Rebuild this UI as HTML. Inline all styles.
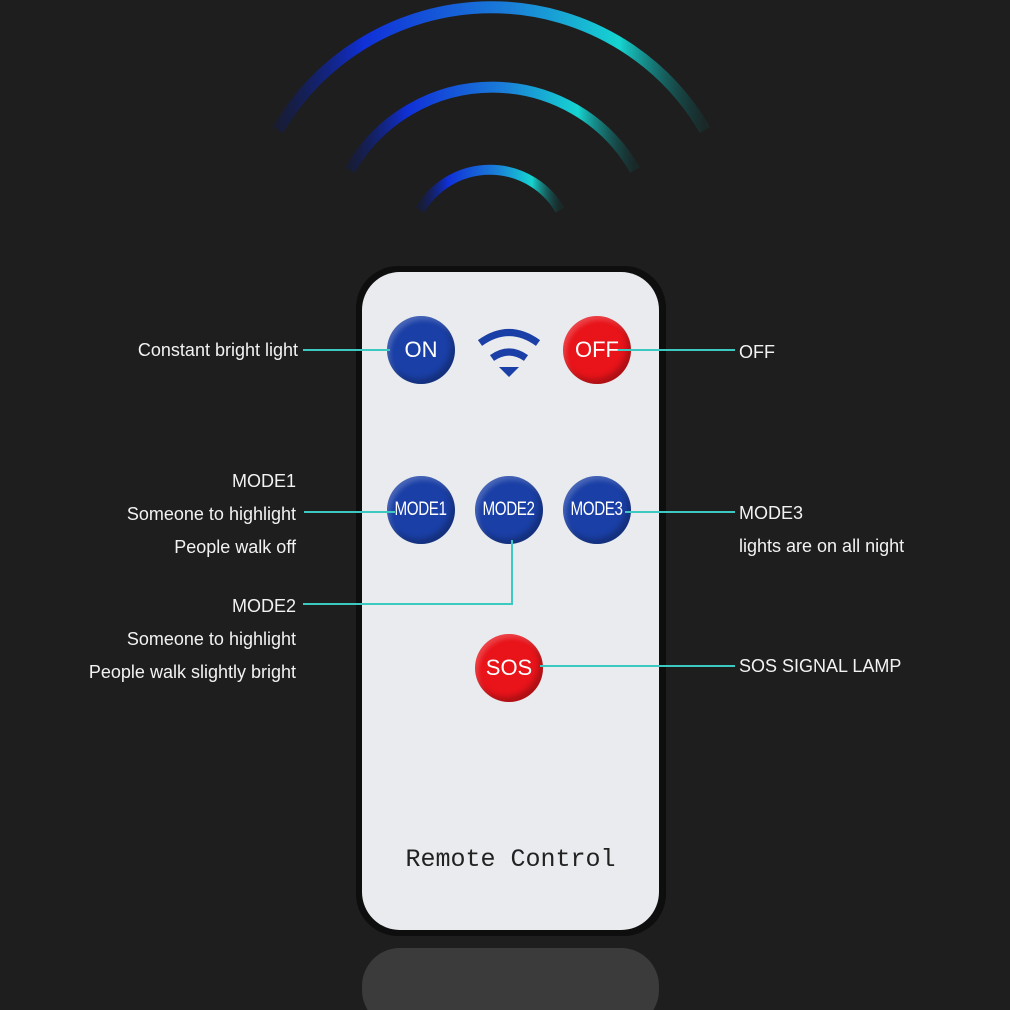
<!DOCTYPE html>
<html><head><meta charset="utf-8"><style>
body{margin:0;width:1010px;height:1010px;background:#1e1e1e;overflow:hidden;position:relative;font-family:"Liberation Sans",sans-serif;}
.t{position:absolute;color:#f2f2f2;font-size:18px;white-space:nowrap;line-height:20px}
.r{text-align:right}
.ln{position:absolute;background:#3cc9c2}
.b{position:absolute;width:68px;height:68px;border-radius:50%;color:#fff;display:flex;align-items:center;justify-content:center;box-shadow:inset -4px -5px 6px rgba(0,0,0,.25),inset 3px 4px 5px rgba(255,255,255,.2)}
.bl{background:#1a3fa6}.rd{background:#e8141a}
.m span{display:inline-block;transform:scaleX(.8);font-size:19px;letter-spacing:-.5px}
</style></head><body>
<svg width="1010" height="1010" style="position:absolute;left:0;top:0">
<defs>
<linearGradient id="g" x1="0" x2="1"><stop offset="0" stop-color="#0a1a6a" stop-opacity=".3"/><stop offset=".2" stop-color="#1030d8"/><stop offset=".55" stop-color="#1a80d8"/><stop offset=".8" stop-color="#16d4d0"/><stop offset="1" stop-color="#0c5050" stop-opacity=".2"/></linearGradient>
</defs>
<path d="M278,130 A247,247 0 0 1 705,130" fill="none" stroke="url(#g)" stroke-width="12"/>
<path d="M350,170 A164,164 0 0 1 635,170" fill="none" stroke="url(#g)" stroke-width="11"/>
<path d="M420,210 A81,81 0 0 1 560,210" fill="none" stroke="url(#g)" stroke-width="10"/>
<rect x="356" y="266" width="310" height="670" rx="42" fill="#0e0e0e"/>
<rect x="362" y="272" width="297" height="658" rx="38" fill="#e9ebee"/>
<rect x="362" y="948" width="297" height="80" rx="38" fill="#3b3b3b"/>
<path d="M480,343 Q509,322 538,343" fill="none" stroke="#1a3fa6" stroke-width="7"/>
<path d="M492,358 Q509,346 526,358" fill="none" stroke="#1a3fa6" stroke-width="7"/>
<path d="M499,367 L519,367 L509,377Z" fill="#1a3fa6"/>
</svg>
<div class="b bl" style="left:387px;top:316px;font-size:22px">ON</div>
<div class="b rd" style="left:563px;top:316px;font-size:22px">OFF</div>
<div class="b bl m" style="left:387px;top:476px"><span>MODE1</span></div>
<div class="b bl m" style="left:475px;top:476px"><span>MODE2</span></div>
<div class="b bl m" style="left:563px;top:476px"><span>MODE3</span></div>
<div class="b rd" style="left:475px;top:634px;font-size:22px">SOS</div>
<div class="ln" style="left:303px;top:349px;width:87px;height:2px"></div>
<div class="ln" style="left:618px;top:349px;width:117px;height:2px"></div>
<div class="ln" style="left:304px;top:511px;width:91px;height:2px"></div>
<div class="ln" style="left:625px;top:511px;width:110px;height:2px"></div>
<div class="ln" style="left:511px;top:540px;width:2px;height:65px"></div>
<div class="ln" style="left:303px;top:603px;width:210px;height:2px"></div>
<div class="ln" style="left:540px;top:665px;width:195px;height:2px"></div>
<div class="t r" style="right:712px;top:340px">Constant bright light</div>
<div class="t r" style="right:714px;top:471px">MODE1</div>
<div class="t r" style="right:714px;top:504px">Someone to highlight</div>
<div class="t r" style="right:714px;top:537px">People walk off</div>
<div class="t r" style="right:714px;top:596px">MODE2</div>
<div class="t r" style="right:714px;top:629px">Someone to highlight</div>
<div class="t r" style="right:714px;top:662px">People walk slightly bright</div>
<div class="t" style="left:739px;top:342px">OFF</div>
<div class="t" style="left:739px;top:503px">MODE3</div>
<div class="t" style="left:739px;top:536px">lights are on all night</div>
<div class="t" style="left:739px;top:656px">SOS SIGNAL LAMP</div>
<div style="position:absolute;left:362px;width:297px;top:845px;text-align:center;font-family:'Liberation Mono',monospace;font-size:25px;color:#222">Remote Control</div>
</body></html>
